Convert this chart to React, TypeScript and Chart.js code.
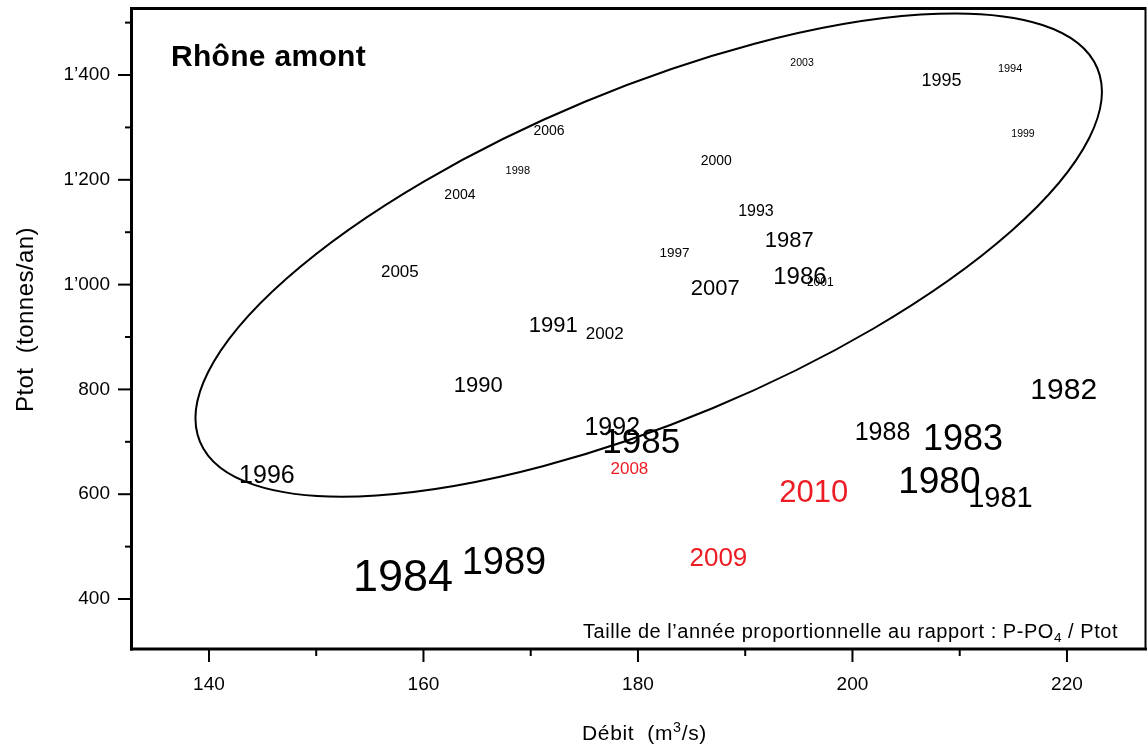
import React, { useEffect, useRef } from 'react';
import { Chart, registerables } from 'chart.js';

Chart.register(...registerables);

const FONT = "'Liberation Sans', Arial, Helvetica, sans-serif";
const RED = '#ED1C24';

// ---- data ----
const YEARS = [1980, 1981, 1982, 1983, 1984, 1985, 1986, 1987, 1988, 1989, 1990, 1991, 1992, 1993, 1994, 1995, 1996, 1997, 1998, 1999, 2000, 2001, 2002, 2003, 2004, 2005, 2006, 2007, 2008, 2009, 2010];
// Débit (m3/s)
const DEBIT = [208.1, 213.8, 219.7, 210.3, 158.1, 180.3, 195.1, 194.1, 202.8, 167.5, 165.1, 172.1, 177.6, 191.0, 214.7, 208.3, 145.4, 183.4, 168.8, 215.9, 187.3, 197.0, 176.9, 195.3, 163.4, 157.8, 171.7, 187.2, 179.2, 187.5, 196.4];
// Ptot (tonnes/an)
const PTOT = [627, 595, 803, 709, 446, 702, 1017, 1087, 721, 474, 810, 925, 731, 1141, 1413, 1391, 639, 1062, 1219, 1289, 1238, 1005, 908, 1425, 1173, 1026, 1295, 995, 651, 480, 606];
// label size proportional to P-PO4 / Ptot
const RATIO_SIZE = [37, 29, 30, 36, 45, 35, 24, 22, 25, 38, 22, 22, 25, 16, 11, 18, 25, 13.5, 11, 10.5, 14, 12, 17, 10.5, 14, 17, 14, 22, 17, 26, 31];
const RED_YEARS = [2008, 2009, 2010];

const X_MAJOR = [140, 160, 180, 200, 220];
const X_MINOR = [150, 170, 190, 210];
const Y_MAJOR = [400, 600, 800, 1000, 1200, 1400];
const Y_MINOR = [500, 700, 900, 1100, 1300, 1500];
const X_RANGE = [132.73, 227.37];
const Y_RANGE = [304.6, 1527.9];

// ellipse annotation: centre in data units
const ELLIPSE_CENTER = [181.0, 1056.5];

function fmtY(v: number): string {
  if (v >= 1000) {
    return `${Math.floor(v / 1000)}\u2019${String(v % 1000).padStart(3, '0')}`;
  }
  return String(v);
}

type Seg = { t: string; sub?: boolean; sup?: boolean };

function drawRich(ctx: CanvasRenderingContext2D, segs: Seg[], x: number, y: number, size: number, weight: string, target: number) {
  const fontFor = (s: Seg) => `${weight} ${s.sub || s.sup ? size * 0.68 : size}px ${FONT}`;
  (ctx as any).letterSpacing = '0px';
  let natural = 0;
  let chars = 0;
  const widths = segs.map((s) => {
    ctx.font = fontFor(s);
    const w = ctx.measureText(s.t).width;
    natural += w;
    chars += s.t.length;
    return w;
  });
  const ls = chars > 0 ? (target - natural) / chars : 0;
  let cx = x;
  segs.forEach((s, i) => {
    ctx.font = fontFor(s);
    (ctx as any).letterSpacing = `${ls}px`;
    const dy = s.sub ? size * 0.22 : s.sup ? -size * 0.38 : 0;
    ctx.fillText(s.t, cx, y + dy);
    cx += widths[i] + ls * s.t.length;
  });
  (ctx as any).letterSpacing = '0px';
}

const overlay = {
  id: 'overlay',
  afterDatasetsDraw(chart: any) {
    const { ctx, chartArea: ca, scales } = chart;
    const xs = scales.x;
    const ys = scales.y;
    ctx.save();
    // ellipse
    const ecx = xs.getPixelForValue(ELLIPSE_CENTER[0]);
    const ecy = ys.getPixelForValue(ELLIPSE_CENTER[1]);
    ctx.beginPath();
    ctx.ellipse(ecx, ecy, 486, 166, (-22.6 * Math.PI) / 180, 0, Math.PI * 2);
    ctx.lineWidth = 2;
    ctx.strokeStyle = '#000';
    ctx.stroke();

    // year labels
    const meta = chart.getDatasetMeta(0);
    ctx.textAlign = 'center';
    ctx.textBaseline = 'alphabetic';
    meta.data.forEach((pt: any, i: number) => {
      const s = RATIO_SIZE[i];
      ctx.font = `${s}px ${FONT}`;
      ctx.fillStyle = RED_YEARS.includes(YEARS[i]) ? RED : '#000';
      ctx.fillText(String(YEARS[i]), pt.x, pt.y + 0.358 * s);
    });

    // frame
    ctx.strokeStyle = '#000';
    ctx.lineCap = 'butt';
    ctx.lineWidth = 3;
    ctx.beginPath();
    ctx.moveTo(ca.left, ca.top + 0.5);
    ctx.lineTo(ca.right, ca.top + 0.5);
    ctx.stroke();
    ctx.beginPath();
    ctx.moveTo(ca.left + 0.5, ca.top - 1);
    ctx.lineTo(ca.left + 0.5, ca.bottom + 1.5);
    ctx.stroke();
    ctx.beginPath();
    ctx.moveTo(ca.left - 1, ca.bottom);
    ctx.lineTo(ca.right + 1, ca.bottom);
    ctx.stroke();
    ctx.lineWidth = 2;
    ctx.beginPath();
    ctx.moveTo(ca.right - 0.5, ca.top - 1);
    ctx.lineTo(ca.right - 0.5, ca.bottom);
    ctx.stroke();

    // ticks
    ctx.lineWidth = 2;
    Y_MAJOR.forEach((v) => {
      const p = ys.getPixelForValue(v);
      ctx.beginPath();
      ctx.moveTo(ca.left - 13, p);
      ctx.lineTo(ca.left, p);
      ctx.stroke();
    });
    Y_MINOR.forEach((v) => {
      const p = ys.getPixelForValue(v);
      ctx.beginPath();
      ctx.moveTo(ca.left - 6, p);
      ctx.lineTo(ca.left, p);
      ctx.stroke();
    });
    X_MAJOR.forEach((v) => {
      const p = xs.getPixelForValue(v);
      ctx.beginPath();
      ctx.moveTo(p, ca.bottom);
      ctx.lineTo(p, ca.bottom + 13);
      ctx.stroke();
    });
    X_MINOR.forEach((v) => {
      const p = xs.getPixelForValue(v);
      ctx.beginPath();
      ctx.moveTo(p, ca.bottom);
      ctx.lineTo(p, ca.bottom + 7);
      ctx.stroke();
    });

    // texts
    ctx.fillStyle = '#000';
    ctx.textAlign = 'left';
    ctx.textBaseline = 'alphabetic';
    drawRich(ctx, [{ t: 'Rhône amont' }], 171, 66, 30, 'bold', 195);
    drawRich(
      ctx,
      [{ t: 'Taille de l\u2019année proportionnelle au rapport : P-PO' }, { t: '4', sub: true }, { t: ' / Ptot' }],
      583, 638, 20, 'normal', 535
    );
    drawRich(ctx, [{ t: 'Débit  (m' }, { t: '3', sup: true }, { t: '/s)' }], 582, 740, 21, 'normal', 125);
    ctx.save();
    ctx.translate(33, 412);
    ctx.rotate(-Math.PI / 2);
    drawRich(ctx, [{ t: 'Ptot  (tonnes/an)' }], 0, 0, 24, 'normal', 185);
    ctx.restore();

    ctx.restore();
  },
};

export default function App() {
  const ref = useRef<HTMLCanvasElement | null>(null);
  useEffect(() => {
    if (!ref.current) return;
    const points = YEARS.map((_, i) => ({ x: DEBIT[i], y: PTOT[i] }));
    const chart = new Chart(ref.current, {
      type: 'scatter',
      data: {
        datasets: [
          {
            label: 'Années',
            data: points,
            pointRadius: 0,
            pointHoverRadius: 0,
            showLine: false,
          },
        ],
      },
      options: {
        responsive: false,
        animation: false,
        events: [],
        layout: { padding: { top: 8, right: 1, left: 0, bottom: 0 } },
        plugins: {
          legend: { display: false },
          tooltip: { enabled: false },
          title: { display: false },
        },
        scales: {
          x: {
            type: 'linear',
            min: X_RANGE[0],
            max: X_RANGE[1],
            grid: { display: false, drawTicks: false, tickLength: 0 },
            border: { display: false },
            afterBuildTicks: (scale: any) => {
              scale.ticks = X_MAJOR.map((v) => ({ value: v }));
            },
            afterFit: (scale: any) => {
              scale.height = 97;
              scale.paddingLeft = 0;
              scale.paddingRight = 0;
              scale.paddingTop = 0;
              scale.paddingBottom = 0;
            },
            ticks: {
              autoSkip: false,
              maxRotation: 0,
              padding: 24,
              color: '#000',
              font: { family: FONT, size: 19 },
              callback: (v: any) => String(v),
            },
          },
          y: {
            type: 'linear',
            min: Y_RANGE[0],
            max: Y_RANGE[1],
            grid: { display: false, drawTicks: false, tickLength: 0 },
            border: { display: false },
            afterBuildTicks: (scale: any) => {
              scale.ticks = Y_MAJOR.map((v) => ({ value: v }));
            },
            afterFit: (scale: any) => {
              scale.width = 131;
              scale.paddingLeft = 0;
              scale.paddingRight = 0;
              scale.paddingTop = 0;
              scale.paddingBottom = 0;
            },
            ticks: {
              autoSkip: false,
              padding: 21,
              color: '#000',
              font: { family: FONT, size: 19 },
              callback: (v: any) => fmtY(Number(v)),
            },
          },
        },
      },
      plugins: [overlay],
    });
    return () => chart.destroy();
  }, []);

  return (
    <div style={{ position: 'fixed', left: 0, top: 0, width: 1147, height: 746, background: '#fff' }}>
      <canvas ref={ref} width={1147} height={746} style={{ display: 'block', width: 1147, height: 746 }} />
    </div>
  );
}
